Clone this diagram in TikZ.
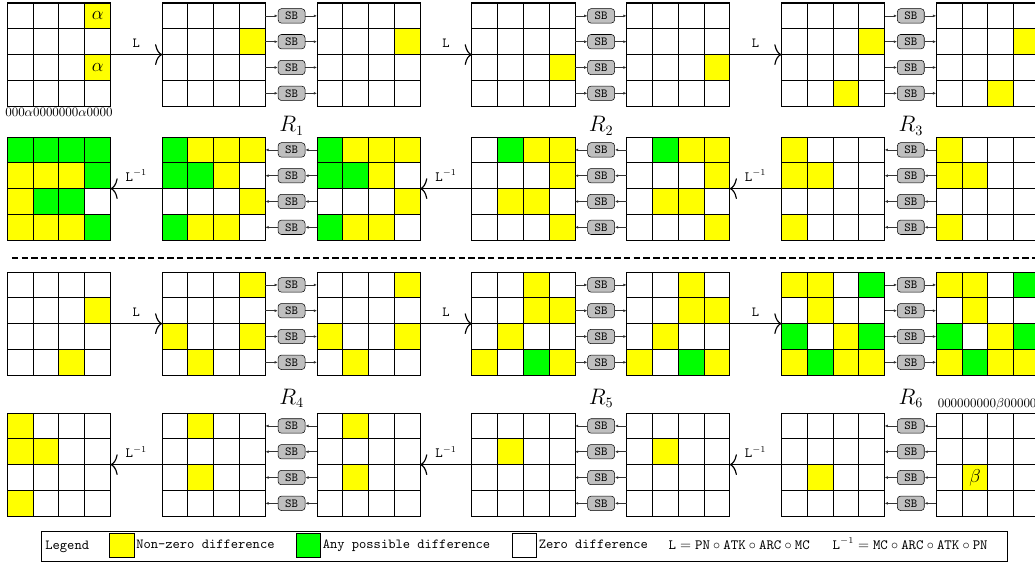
\documentclass[tikz,border=0pt]{standalone}
\usepackage{tikz}
\usetikzlibrary{arrows.meta, positioning, calc}
\definecolor{ylw}{RGB}{255,255,0}
\definecolor{grn}{RGB}{0,255,0}

% fills the listed cells (col/row/colour) of a 4x4 state and draws its grid
\newcommand{\statecells}[2]{%
  \begin{scope}[shift={(#1.north west)}]
    \foreach \cx/\ry/\clr in {#2}
      \fill[\clr] (0.7*\cx,-0.7*\ry) rectangle ++(0.7,-0.7);
    \draw[cellline] (0,0) grid[step=0.7] (2.8,-2.8);
    \draw[cellline] (0,0) rectangle (2.8,-2.8);
  \end{scope}}

\begin{document}
\begin{tikzpicture}[
    font=\fontsize{10.7}{13}\selectfont,
    stategrid/.style={minimum width=2.8cm, minimum height=2.8cm, inner sep=0pt, outer sep=0pt},
    cellline/.style={line width=0.75pt},
    sbbox/.style={draw, fill=gray!50, rounded corners=2.5pt, minimum width=0.73cm, minimum height=0.39cm, inner sep=0pt, font=\fontsize{9.5}{11}\selectfont\ttfamily},
    sbarrow/.style={-{Latex[length=2.5pt,width=2.2pt]}, line width=0.5pt, black!80},
    bigarrow/.style={-{To[length=5.5pt,width=16pt]}, line width=0.9pt},
    oplabel/.style={above=2pt, font=\fontsize{10.7}{13}\selectfont\ttfamily},
    rlabel/.style={font=\fontsize{16}{19}\selectfont},
    bitstr/.style={inner sep=1pt, font=\fontsize{10}{12}\selectfont},
    symb/.style={font=\fontsize{14}{16}\selectfont},
    sepline/.style={dash pattern=on 5pt off 2.5pt, line width=0.9pt},
    legtext/.style={inner sep=1pt, text height=1.6ex, text depth=0.45ex, font=\fontsize{10.7}{13}\selectfont\ttfamily},
    legsq/.style={draw, line width=0.6pt, minimum size=0.67cm, inner sep=0pt}
]
    \useasboundingbox (0,0) rectangle (28.08,-15.25);

    % the states: rows a,b (rounds 1-3), c,d (rounds 4-6)
    \foreach \row/\y in {a/-1.481, b/-5.117, c/-8.78, d/-12.606}
        \foreach \k in {0,...,6}
            \node[stategrid] (\row\k) at (1.6+4.2*\k,\y) {};

    \statecells{a0}{3/0/ylw, 3/2/ylw}
    \foreach \g in {a1,a2} {\statecells{\g}{3/1/ylw}}
    \foreach \g in {a3,a4} {\statecells{\g}{3/2/ylw}}
    \foreach \g in {a5,a6} {\statecells{\g}{3/1/ylw, 2/3/ylw}}

    \statecells{b0}{0/0/grn, 1/0/grn, 2/0/grn, 3/0/grn, 0/1/ylw, 1/1/ylw, 2/1/ylw, 3/1/grn,
                    0/2/ylw, 1/2/grn, 2/2/grn, 0/3/ylw, 1/3/ylw, 2/3/ylw, 3/3/grn}
    \foreach \g in {b1,b2} {\statecells{\g}{0/0/grn, 1/0/ylw, 2/0/ylw, 3/0/ylw, 0/1/grn, 1/1/grn,
                    2/1/ylw, 3/2/ylw, 0/3/grn, 1/3/ylw, 2/3/ylw}}
    \foreach \g in {b3,b4} {\statecells{\g}{1/0/grn, 2/0/ylw, 3/0/ylw, 3/1/ylw, 1/2/ylw, 2/2/ylw, 3/3/ylw}}
    \foreach \g in {b5,b6} {\statecells{\g}{0/0/ylw, 0/1/ylw, 1/1/ylw, 0/3/ylw}}

    \statecells{c0}{3/1/ylw, 2/3/ylw}
    \foreach \g in {c1,c2} {\statecells{\g}{3/0/ylw, 0/2/ylw, 3/2/ylw, 1/3/ylw}}
    \foreach \g in {c3,c4} {\statecells{\g}{2/0/ylw, 2/1/ylw, 3/1/ylw, 1/2/ylw, 0/3/ylw, 2/3/grn, 3/3/ylw}}
    \foreach \g in {c5,c6} {\statecells{\g}{0/0/ylw, 1/0/ylw, 3/0/grn, 1/1/ylw, 0/2/grn, 2/2/ylw,
                    3/2/grn, 0/3/ylw, 1/3/grn, 2/3/ylw, 3/3/ylw}}

    \statecells{d0}{0/0/ylw, 0/1/ylw, 1/1/ylw, 0/3/ylw}
    \foreach \g in {d1,d2} {\statecells{\g}{1/0/ylw, 1/2/ylw}}
    \foreach \g in {d3,d4} {\statecells{\g}{1/1/ylw}}
    \foreach \g in {d5,d6} {\statecells{\g}{1/2/ylw}}

    \node[symb] (alpha0) at ($(a0.north west)+(2.45,-0.35)$) {$\alpha$};
    \node[symb] (alpha2) at ($(a0.north west)+(2.45,-1.75)$) {$\alpha$};
    \node[symb] (beta) at ($(d6.north west)+(1.05,-1.75)$) {$\beta$};
    \node[bitstr, below=0pt of a0] (inbits) {000$\alpha$0000000$\alpha$0000};
    \node[bitstr, anchor=south west] (outbits) at ([yshift=1pt]d6.north west) {000000000$\beta$000000};

    % S-box layers
    \foreach \lft/\rgt in {a1/a2, a3/a4, a5/a6, c1/c2, c3/c4, c5/c6}
        \foreach \ry in {0,...,3} {
            \node[sbbox] (sb-\lft-\ry) at ($(\lft.north east)+(0.71,-0.35-0.7*\ry)$) {SB};
            \draw[sbarrow] (sb-\lft-\ry.west -| \lft.east) -- (sb-\lft-\ry.west);
            \draw[sbarrow] (sb-\lft-\ry.east) -- (sb-\lft-\ry.east -| \rgt.west);
        }
    \foreach \lft/\rgt in {b1/b2, b3/b4, b5/b6, d1/d2, d3/d4, d5/d6}
        \foreach \ry in {0,...,3} {
            \node[sbbox] (sb-\lft-\ry) at ($(\lft.north east)+(0.71,-0.35-0.7*\ry)$) {SB};
            \draw[sbarrow] (sb-\lft-\ry.east -| \rgt.west) -- (sb-\lft-\ry.east);
            \draw[sbarrow] (sb-\lft-\ry.west) -- (sb-\lft-\ry.west -| \lft.east);
        }

    % linear layers
    \foreach \p/\q in {a0/a1, a2/a3, a4/a5, c0/c1, c2/c3, c4/c5}
        \draw[bigarrow] (\p) -- node[oplabel] (l-\p) {L} (\q);
    \foreach \p/\q in {b5/b4, b3/b2, b1/b0, d5/d4, d3/d2, d1/d0}
        \draw[bigarrow] (\p) -- node[oplabel] (l-\p) {$\mathtt{L}^{-1}$} (\q);

    \node[rlabel] (r1) at (7.91,-3.41) {$R_1$};
    \node[rlabel] (r2) at (16.31,-3.41) {$R_2$};
    \node[rlabel] (r3) at (24.71,-3.41) {$R_3$};
    \node[rlabel] (r4) at (7.91,-10.80) {$R_4$};
    \node[rlabel] (r5) at (16.31,-10.80) {$R_5$};
    \node[rlabel] (r6) at (24.71,-10.80) {$R_6$};

    \coordinate (sepl) at (0.32,-7.0);
    \coordinate (sepr) at (28.3,-7.0);
    \draw[sepline] (sepl) -- (sepr);

    % legend
    \node[draw, line width=0.6pt, minimum width=26.21cm, minimum height=0.81cm, inner sep=0pt] (legend) at (14.22,-14.814) {};
    \node[legtext, anchor=west] (legtitle) at (1.19,-14.81) {Legend};
    \node[legsq, fill=ylw] (sqy) at (3.31,-14.80) {};
    \node[legtext, right=0pt of sqy] (txy) {Non-zero difference};
    \node[legsq, fill=grn] (sqg) at (8.37,-14.80) {};
    \node[legtext, right=0pt of sqg] (txg) {Any possible difference};
    \node[legsq, fill=white] (sqw) at (14.23,-14.80) {};
    \node[legtext, right=0pt of sqw] (txw) {Zero difference};
    \node[legtext, anchor=west] (defl) at (18.10,-14.81)
        {$\mathtt{L}=\mathtt{PN}\circ\mathtt{ATK}\circ\mathtt{ARC}\circ\mathtt{MC}$};
    \node[legtext, anchor=west] (definv) at (22.55,-14.81)
        {$\mathtt{L}^{-1}=\mathtt{MC}\circ\mathtt{ARC}\circ\mathtt{ATK}\circ\mathtt{PN}$};
\end{tikzpicture}
\end{document}
